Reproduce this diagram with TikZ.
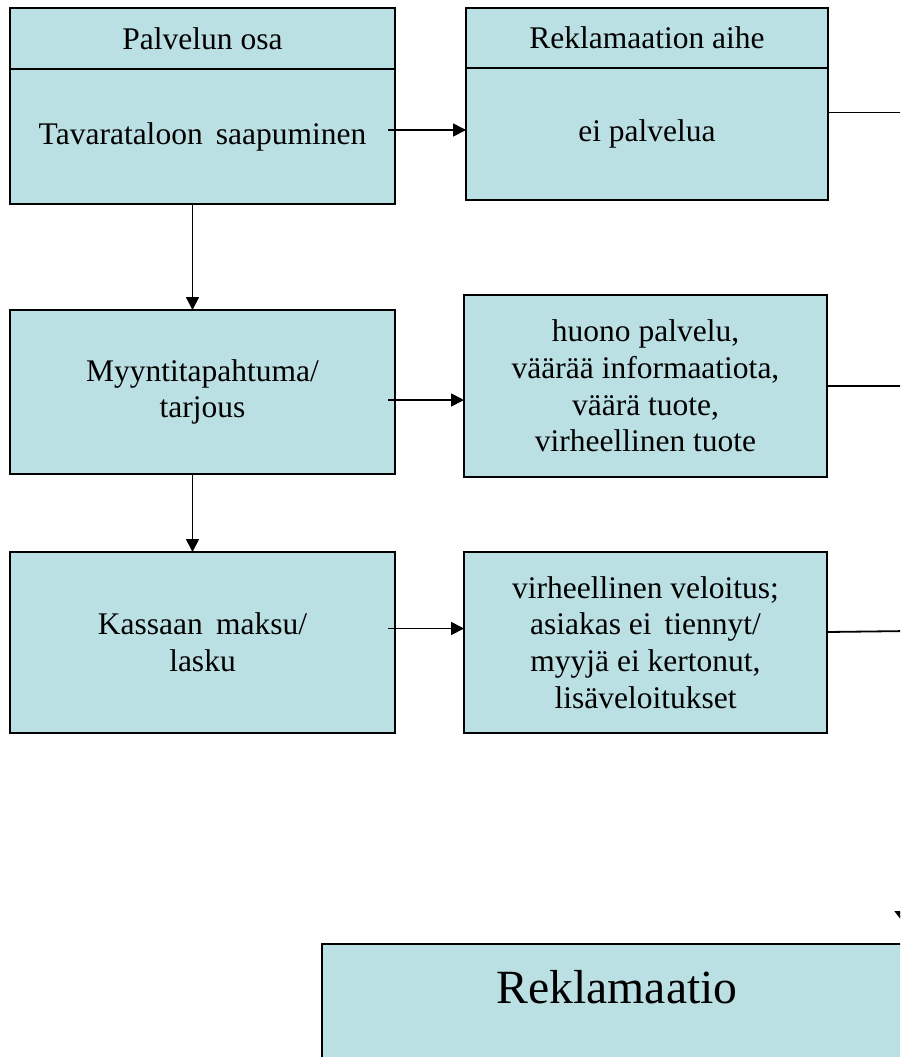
\documentclass[tikz,border=0pt]{standalone}
\usepackage{fontspec}
\setmainfont{Liberation Serif}
\usetikzlibrary{arrows.meta}
\definecolor{boxfill}{RGB}{187,224,227}
\tikzset{
  box/.style={draw=black, fill=boxfill, line width=1.8pt, inner sep=0pt, outer sep=0pt,
    align=center, font=\fontsize{31.5}{36.7}\selectfont},
  lbl/.style={yshift=-3pt},
  arr/.style={line width=1.8pt, -{Triangle[length=13pt,width=13pt]}},
  ln/.style={line width=1.8pt}
}
\begin{document}
\begin{tikzpicture}[x=1pt,y=-1pt]
\useasboundingbox (0,0) rectangle (900,1057);
\clip (0,0) rectangle (900,1057);
% left column
\node[box, minimum width=385, minimum height=61] (aHead) at (202.5,38.5) {Palvelun osa};
\node[box, minimum width=385, minimum height=135] (aBody) at (202.5,136.5) {\raisebox{-3pt}{Tavarataloon\, saapuminen}};
\node[box, minimum width=385, minimum height=164] (cBox) at (202.5,392) {Myyntitapahtuma/\\tarjous};
\node[box, minimum width=385, minimum height=181] (eBox) at (202.5,642.5) {Kassaan\, maksu/\\lasku};
% right column
\node[box, minimum width=362, minimum height=60] (bHead) at (647,38) {Reklamaation aihe};
\node[box, minimum width=362, minimum height=132] (bBody) at (647,134) {\raisebox{-3pt}{ei palvelua}};
\node[box, minimum width=363, minimum height=182] (dBox) at (645.5,386) {huono palvelu,\\väärää informaatiota,\\väärä tuote,\\virheellinen tuote};
\node[box, minimum width=363, minimum height=181] (fBox) at (645.5,642.5) {virheellinen veloitus;\\asiakas ei\, tiennyt/\\myyjä ei kertonut,\\lisäveloitukset};
% bottom box
\draw[box] (322,944) rectangle (960,1120);
\node[font=\fontsize{47.7}{55}\selectfont, inner sep=0pt] (rek) at (617,987) {Reklamaatio};
% free ends off the right edge
\coordinate (outB) at (910,112.5);
\coordinate (outD) at (910,386);
\coordinate (outF) at (910,631);
\coordinate (inTop) at (903.5,880);
\coordinate (inTip) at (903.5,923);
% horizontal arrows
\draw[arr] ([shift={(-7pt,6.5pt)}]aBody.east) -- ([yshift=4pt]bBody.west);
\draw[arr] ([shift={(-7pt,-8pt)}]cBox.east) -- ([yshift=-14pt]dBox.west);
\draw[arr] ([shift={(-7pt,14pt)}]eBox.east) -- ([yshift=14pt]fBox.west);
% vertical arrows
\draw[arr] ([xshift=-10pt]aBody.south) -- ([xshift=-10pt]cBox.north);
\draw[arr] ([xshift=-10pt]cBox.south) -- ([xshift=-10pt]eBox.north);
% lines leaving to the right
\draw[ln] ([yshift=21.5pt]bBody.east) -- (outB);
\draw[ln] (dBox.east) -- (outD);
\draw[ln] ([yshift=10.5pt]fBox.east) -- (outF);
\draw[line width=1.8pt, -{Triangle[length=12pt,width=18pt]}] (inTop) -- (inTip);
\end{tikzpicture}
\end{document}
